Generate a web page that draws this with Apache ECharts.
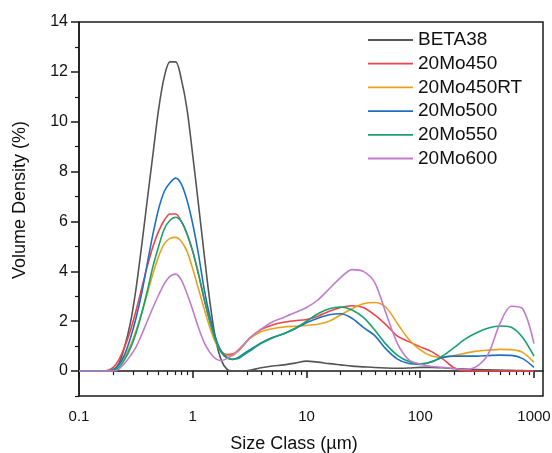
<!DOCTYPE html>
<html>
<head>
<meta charset="utf-8">
<script src="https://cdn.jsdelivr.net/npm/echarts@6/dist/echarts.min.js"></script>
<style>
  html, body { margin: 0; padding: 0; background: #fff; }
  #chart { width: 552px; height: 453px; }
</style>
</head>
<body>
<div id="chart"></div>
<script>
// Particle size classes (µm): 20 per decade up to ~3 µm, 10 per decade above
const sizes = [0.1, 0.112, 0.126, 0.141, 0.158, 0.178, 0.2, 0.224, 0.251, 0.282,
  0.316, 0.355, 0.398, 0.447, 0.501, 0.562, 0.631, 0.708, 0.794, 0.891,
  1, 1.122, 1.259, 1.413, 1.585, 1.778, 1.995, 2.239, 2.512, 2.818, 3.162,
  3.981, 5.012, 6.31, 7.943, 10, 12.59, 15.85, 19.95, 25.12, 31.62, 39.81, 50.12,
  63.1, 79.43, 100, 125.9, 158.5, 199.5, 251.2, 316.2, 398.1, 501.2, 631, 794.3, 1000];

// Volume density (%) for each sample, one value per size class
const beta38 = [0, 0, 0, 0, 0, 0, 0.05, 0.3, 0.95, 1.9,
  3.25, 5.0, 6.85, 8.7, 10.5, 11.8, 12.4, 12.4, 11.7, 10.5,
  8.65, 6.7, 4.7, 2.8, 1.3, 0.45, 0.08, 0, 0, 0, 0.03,
  0.13, 0.2, 0.25, 0.32, 0.4, 0.36, 0.3, 0.25, 0.2, 0.17, 0.14, 0.12,
  0.11, 0.12, 0.15, 0.15, 0.13, 0.1, 0.08, 0.06, 0.05, 0.04, 0.03, 0.02, 0.01];

const mo450 = [0, 0, 0, 0, 0, 0.02, 0.15, 0.45, 0.95, 1.6,
  2.4, 3.3, 4.2, 5.0, 5.6, 6.05, 6.3, 6.3, 6.0, 5.5,
  4.8, 3.9, 2.9, 2.0, 1.25, 0.8, 0.66, 0.68, 0.8, 1.05, 1.32,
  1.66, 1.85, 1.96, 2.02, 2.07, 2.2, 2.4, 2.55, 2.62, 2.55, 2.25, 1.85,
  1.4, 1.18, 0.97, 0.78, 0.48, 0.12, 0, 0, 0, 0, 0, 0, 0];

const mo450RT = [0, 0, 0, 0, 0, 0, 0.05, 0.25, 0.55, 1.0,
  1.6, 2.3, 3.1, 3.9, 4.6, 5.1, 5.32, 5.36, 5.2, 4.8,
  4.1, 3.3, 2.5, 1.75, 1.15, 0.78, 0.62, 0.62, 0.82, 1.05, 1.3,
  1.58, 1.7, 1.77, 1.8, 1.83, 1.88, 2.0, 2.25, 2.5, 2.7, 2.75, 2.55,
  1.9, 1.27, 0.85, 0.6, 0.55, 0.62, 0.72, 0.8, 0.84, 0.87, 0.86, 0.75, 0.35];

const mo500 = [0, 0, 0, 0, 0, 0, 0.05, 0.25, 0.65, 1.3,
  2.1, 3.1, 4.3, 5.5, 6.5, 7.2, 7.55, 7.74, 7.5, 6.85,
  5.9, 4.7, 3.3, 2.2, 1.35, 0.8, 0.55, 0.47, 0.55, 0.7, 0.85,
  1.13, 1.35, 1.5, 1.7, 1.94, 2.12, 2.26, 2.3, 2.12, 1.75, 1.42, 0.88,
  0.48, 0.3, 0.27, 0.38, 0.55, 0.6, 0.6, 0.6, 0.62, 0.64, 0.63, 0.5, 0.15];

const mo550 = [0, 0, 0, 0, 0, 0, 0.03, 0.15, 0.45, 0.9,
  1.5, 2.3, 3.2, 4.2, 5.0, 5.7, 6.05, 6.17, 6.0, 5.5,
  4.8, 3.9, 2.9, 2.0, 1.25, 0.75, 0.52, 0.47, 0.5, 0.65, 0.8,
  1.1, 1.33, 1.5, 1.72, 2.0, 2.3, 2.5, 2.57, 2.45, 2.15, 1.65, 1.07,
  0.63, 0.38, 0.29, 0.36, 0.62, 0.95, 1.3, 1.55, 1.73, 1.81, 1.76, 1.35, 0.6];

const mo600 = [0, 0, 0, 0, 0, 0, 0, 0.08, 0.3, 0.6,
  0.95, 1.45, 2.0, 2.55, 3.05, 3.5, 3.8, 3.89, 3.65, 3.1,
  2.45, 1.75, 1.15, 0.75, 0.5, 0.42, 0.5, 0.65, 0.85, 1.08, 1.32,
  1.68, 1.97, 2.15, 2.35, 2.55, 2.85, 3.3, 3.75, 4.07, 4.0, 3.55, 2.3,
  1.1, 0.45, 0.27, 0.18, 0.15, 0.1, 0.07, 0.2, 0.7, 1.9, 2.6, 2.5, 1.1];

const seriesNames = ['BETA38', '20Mo450', '20Mo450RT', '20Mo500', '20Mo550', '20Mo600'];
const seriesValues = [beta38, mo450, mo450RT, mo500, mo550, mo600];
const seriesColors = ['#555555', '#EF434B', '#E9A220', '#1F70C2', '#17A26C', '#C07CCB'];

// Axis tick positions
const xMajorTicks = [0.1, 1, 10, 100, 1000];
const xMinorTicks = [0.2, 0.3, 0.4, 0.5, 0.6, 0.7, 0.8, 0.9,
  2, 3, 4, 5, 6, 7, 8, 9, 20, 30, 40, 50, 60, 70, 80, 90,
  200, 300, 400, 500, 600, 700, 800, 900];
const yMajorTicks = [0, 2, 4, 6, 8, 10, 12, 14];
const yMinorTicks = [-1, 1, 3, 5, 7, 9, 11, 13];

const FONT = 'Liberation Sans, Arial, sans-serif';
const INK = '#111';
const AXIS = '#1a1a1a';

const chart = echarts.init(document.getElementById('chart'), null, { renderer: 'canvas' });

const xBase = {
  type: 'log', logBase: 10, min: 0.1, max: 1200,
  gridIndex: 0, position: 'bottom',
  splitLine: { show: false }, minorSplitLine: { show: false }
};
const yBase = {
  type: 'value', min: -1, max: 14, gridIndex: 0, position: 'left',
  splitLine: { show: false }
};

chart.setOption({
  animation: false,
  backgroundColor: '#fff',
  grid: {
    left: 79, right: 9, top: 22, bottom: 57,
    outerBoundsMode: 'none', containLabel: false,
    show: true, borderColor: AXIS, borderWidth: 1.5, backgroundColor: 'transparent'
  },
  legend: {
    orient: 'vertical', left: 368, top: 30, padding: 0,
    icon: 'rect', itemWidth: 45, itemHeight: 1.8, itemGap: 3.7,
    textStyle: { fontFamily: FONT, fontSize: 19, color: INK, lineHeight: 20 },
    data: seriesNames
  },
  xAxis: [
    Object.assign({}, xBase, {
      name: 'Size Class (µm)', nameLocation: 'middle', nameGap: 39,
      nameTextStyle: { fontFamily: FONT, fontSize: 18, color: INK, padding: [0, 34, 0, 0] },
      axisLine: { show: true, lineStyle: { color: AXIS, width: 1.5 } },
      axisTick: { show: true, inside: false, length: 7, customValues: xMajorTicks,
        lineStyle: { color: AXIS, width: 1.5 } },
      axisLabel: { show: true, margin: 13, customValues: xMajorTicks,
        fontFamily: FONT, fontSize: 15, color: INK,
        formatter: v => String(v) }
    }),
    Object.assign({}, xBase, {
      axisLine: { show: false },
      axisTick: { show: true, inside: false, length: 4, customValues: xMinorTicks,
        lineStyle: { color: AXIS, width: 1.2 } },
      axisLabel: { show: false }
    })
  ],
  yAxis: [
    Object.assign({}, yBase, {
      name: 'Volume Density (%)', nameLocation: 'middle', nameGap: 50,
      nameTextStyle: { fontFamily: FONT, fontSize: 18, color: INK, padding: [0, 0, 0, 18] },
      axisLine: { show: true, lineStyle: { color: AXIS, width: 1.5 } },
      axisTick: { show: true, inside: false, length: 8, customValues: yMajorTicks,
        lineStyle: { color: AXIS, width: 1.5 } },
      axisLabel: { show: true, margin: 11, customValues: yMajorTicks,
        fontFamily: FONT, fontSize: 16, color: INK }
    }),
    Object.assign({}, yBase, {
      axisLine: { show: false },
      axisTick: { show: true, inside: false, length: 4, customValues: yMinorTicks,
        lineStyle: { color: AXIS, width: 1.2 } },
      axisLabel: { show: false }
    })
  ],
  series: seriesNames.map((name, k) => ({
    name: name,
    type: 'line',
    xAxisIndex: 0, yAxisIndex: 0,
    data: sizes.map((s, i) => [s, seriesValues[k][i]]),
    symbol: 'none',
    smooth: 0.3,
    color: seriesColors[k],
    lineStyle: { color: seriesColors[k], width: 1.6 },
    emphasis: { disabled: true }
  }))
});
</script>
</body>
</html>
